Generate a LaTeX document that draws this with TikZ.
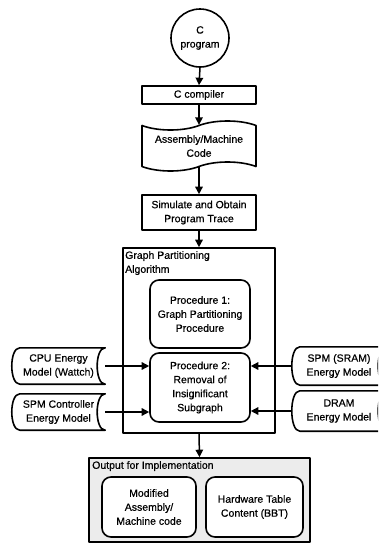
\documentclass[tikz,border=0pt]{standalone}
\usepackage{fontspec}
\setmainfont{Liberation Sans}[FakeBold=0.5]
\usetikzlibrary{arrows.meta,shapes.symbols,calc}
\newcommand\storedshape[1]{%
  \draw[boxline] ($(#1.north west)+(8,0)$) -- (#1.north east)
    .. controls ($(#1.north east)+(-10.7,0)$) and ($(#1.south east)+(-10.7,0)$) .. (#1.south east)
    -- ($(#1.south west)+(8,0)$)
    .. controls ($(#1.south west)+(-2.7,0)$) and ($(#1.north west)+(-2.7,0)$) .. ($(#1.north west)+(8,0)$) -- cycle;}
\begin{document}
\begin{tikzpicture}[x=1pt,y=-1pt,
  every node/.style={font=\fontsize{10.5}{14}\selectfont, align=center, inner sep=1pt},
  boxline/.style={draw, line width=1.6pt, line join=round},
  procbox/.style={boxline, rounded corners=9pt, fill=white, minimum width=100pt},
  sidebox/.style={minimum width=93pt},
  arr/.style={line width=1.5pt, -{Triangle[length=7.5pt,width=7.5pt]}},
]
\useasboundingbox (0,0) rectangle (378,544);
\clip (0,0) rectangle (378,544);

\node[boxline, circle, minimum size=58pt, inner sep=0pt] (cprog) at (200,38) {C\\program};
\node[boxline, minimum width=114pt, minimum height=18pt] (ccomp) at (199,95) {C compiler};
\node[boxline, tape, minimum width=114pt, minimum height=50pt, tape bend height=9pt] (asm) at (199,146) {Assembly/Machine\\Code};
\node[boxline, minimum width=114pt, minimum height=35pt] (sim) at (199,212.5) {Simulate and Obtain\\Program Trace};

\node[boxline, fill=white, minimum width=152pt, minimum height=185pt] (gpa) at (199,340.5) {};
\node[anchor=north west, align=left] (gpalabel) at (124,250) {Graph Partitioning\\Algorithm};
\node[procbox, minimum height=68pt] (p1) at (200,314) {Procedure 1:\\Graph Partitioning\\Procedure};
\node[procbox, minimum height=69pt] (p2) at (200,387.5) {Procedure 2:\\Removal of\\Insignificant\\Subgraph};

\node[sidebox, minimum height=36pt] (cpu) at (58.5,366) {CPU Energy\\Model (Wattch)};
\node[sidebox, minimum height=36pt] (spmc) at (58.5,412) {SPM Controller\\Energy Model};
\node[sidebox, minimum width=94pt, minimum height=38pt] (sram) at (339,366) {SPM (SRAM)\\Energy Model};
\node[sidebox, minimum width=94pt, minimum height=40pt] (dram) at (339,411) {DRAM\\Energy Model};
\storedshape{cpu}
\storedshape{spmc}
\storedshape{sram}
\storedshape{dram}

\node[boxline, fill=gray!15, minimum width=221pt, minimum height=84pt] (out) at (199.5,500) {};
\node[anchor=north west, align=left] (outlabel) at (91,460) {Output for Implementation};
\node[procbox, minimum width=94pt, minimum height=60pt] (mod) at (149,507) {Modified\\Assembly/\\Machine code};
\node[procbox, minimum width=97pt, minimum height=60pt] (hw) at (254.5,507) {Hardware Table\\Content (BBT)};

\draw[arr] (cprog.south) -- (ccomp.north);
\draw[arr] (ccomp.south) -- (asm.north);
\draw[arr] (asm.south) -- (sim.north);
\draw[arr] (sim.south) -- (gpa.north);
\draw[arr] (gpa.south) -- (out.north);
\draw[arr] (cpu.east) -- (cpu.east -| p2.west);
\draw[arr] (spmc.east) -- (spmc.east -| p2.west);
\draw[arr] (sram.west) -- (sram.west -| p2.east);
\draw[arr] (dram.west) -- (dram.west -| p2.east);
\end{tikzpicture}
\end{document}
